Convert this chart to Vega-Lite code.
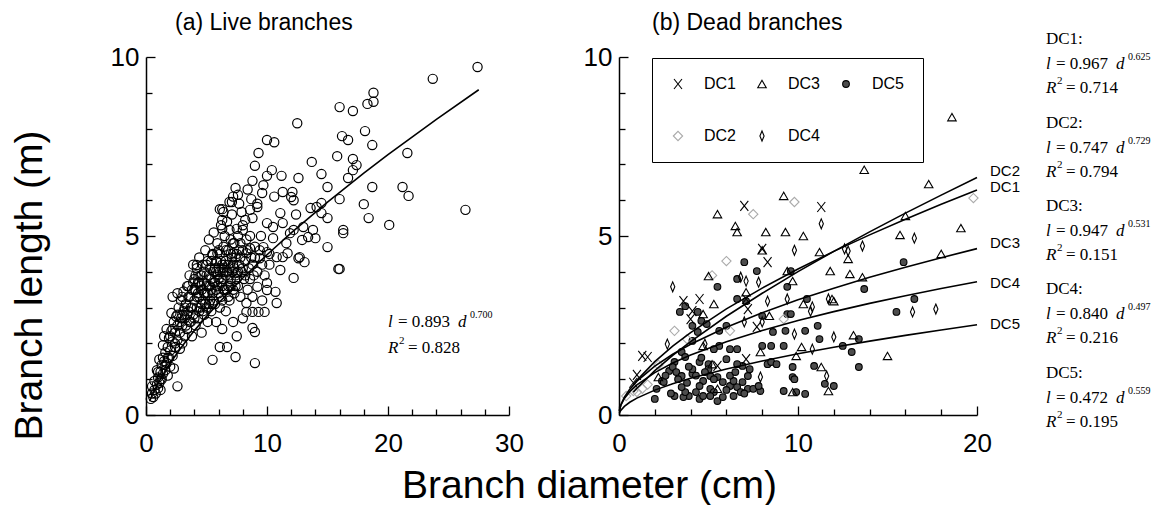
{
  "$schema": "https://vega.github.io/schema/vega-lite/v6.json",
  "background": "white",
  "padding": {"left": 10, "top": 12, "right": 0, "bottom": 0},
  "spacing": 110,
  "bounds": "flush",
  "resolve": {"legend": {"shape": "independent", "fill": "independent", "stroke": "independent", "size": "independent"}},
  "config": {
    "view": {"stroke": null},
    "font": "Liberation Sans",
    "axis": {"domainColor": "black", "domainWidth": 1.5, "tickColor": "black", "tickWidth": 1.3, "tickSize": -6, "labelFont": "Liberation Sans", "labelFontSize": 26, "labelColor": "black", "grid": false, "labelFlush": false, "labelOverlap": false, "titleFont": "Liberation Sans", "titleFontSize": 39, "titleFontWeight": "normal", "titleColor": "black"},
    "title": {"font": "Liberation Sans", "fontSize": 23, "fontWeight": "normal", "color": "black", "anchor": "start", "frame": "group", "baseline": "alphabetic"}
  },
  "datasets": {
    "live": [
      {"d":0.4,"l":0.45},{"d":0.5,"l":0.6},{"d":0.6,"l":0.5},{"d":0.7,"l":0.7},{"d":0.5,"l":0.8},{"d":0.8,"l":0.6},{"d":0.9,"l":0.85},{"d":0.7,"l":0.95},{"d":1.0,"l":0.75},{"d":1.0,"l":1.05},{"d":1.1,"l":0.9},{"d":1.2,"l":1.2},{"d":0.9,"l":1.25},{"d":1.3,"l":1.0},{"d":1.3,"l":1.4},{"d":1.4,"l":1.15},{"d":1.5,"l":1.5},{"d":1.1,"l":1.55},{"d":1.6,"l":1.25},{"d":1.6,"l":1.75},{"d":1.7,"l":1.45},{"d":1.8,"l":1.9},{"d":1.4,"l":1.95},{"d":1.9,"l":1.6},{"d":1.9,"l":2.15},{"d":2.0,"l":1.35},{"d":2.0,"l":1.8},{"d":2.1,"l":2.35},{"d":1.7,"l":2.4},{"d":2.2,"l":1.65},{"d":2.2,"l":2.05},{"d":2.3,"l":2.6},{"d":2.4,"l":1.9},{"d":2.4,"l":2.3},{"d":2.5,"l":2.75},{"d":2.1,"l":2.85},{"d":2.6,"l":2.1},{"d":2.6,"l":2.5},{"d":2.7,"l":3.0},{"d":2.8,"l":1.85},{"d":2.8,"l":2.3},{"d":2.9,"l":2.7},{"d":2.9,"l":3.2},{"d":3.0,"l":2.0},{"d":3.0,"l":2.5},{"d":3.1,"l":2.9},{"d":3.1,"l":3.45},{"d":3.2,"l":2.2},{"d":3.2,"l":2.7},{"d":3.3,"l":3.1},{"d":3.4,"l":2.4},{"d":3.4,"l":3.6},{"d":3.5,"l":2.9},{"d":2.2,"l":3.3},{"d":2.6,"l":0.8},{"d":1.2,"l":0.7},{"d":2.3,"l":1.3},{"d":1.8,"l":1.1},{"d":2.6,"l":3.4},{"d":1.5,"l":2.2},
      {"d":3.5,"l":3.3},{"d":3.6,"l":2.6},{"d":3.6,"l":3.9},{"d":3.7,"l":3.0},{"d":3.8,"l":3.5},{"d":3.8,"l":2.2},{"d":3.9,"l":4.2},{"d":3.9,"l":2.8},{"d":4.0,"l":3.2},{"d":4.0,"l":3.8},{"d":4.1,"l":2.5},{"d":4.1,"l":3.5},{"d":4.2,"l":4.1},{"d":4.2,"l":3.0},{"d":4.3,"l":3.7},{"d":4.3,"l":2.7},{"d":4.4,"l":3.3},{"d":4.4,"l":4.4},{"d":4.5,"l":3.0},{"d":4.5,"l":3.9},{"d":4.6,"l":3.5},{"d":4.6,"l":2.3},{"d":4.7,"l":4.2},{"d":4.7,"l":3.2},{"d":4.8,"l":3.7},{"d":4.8,"l":2.8},{"d":4.9,"l":4.6},{"d":4.9,"l":3.4},{"d":5.0,"l":3.9},{"d":5.0,"l":3.0},{"d":5.1,"l":4.3},{"d":5.1,"l":2.6},{"d":5.2,"l":3.6},{"d":5.2,"l":4.9},{"d":5.3,"l":3.2},{"d":5.3,"l":4.1},{"d":5.4,"l":3.8},{"d":5.4,"l":2.9},{"d":5.5,"l":4.5},{"d":5.5,"l":3.4},{"d":5.6,"l":4.0},{"d":5.6,"l":5.1},{"d":5.7,"l":3.1},{"d":5.7,"l":3.7},{"d":5.8,"l":4.3},{"d":5.8,"l":2.6},{"d":5.9,"l":3.9},{"d":5.9,"l":4.8},{"d":6.0,"l":3.4},{"d":6.0,"l":4.1},{"d":6.1,"l":3.0},{"d":6.1,"l":4.5},{"d":6.2,"l":3.7},{"d":6.2,"l":5.3},{"d":6.3,"l":4.2},{"d":6.3,"l":3.2},{"d":6.4,"l":4.7},{"d":6.4,"l":3.8},{"d":6.5,"l":3.5},{"d":6.5,"l":5.0},{"d":6.6,"l":4.3},{"d":6.6,"l":2.9},{"d":6.7,"l":4.0},{"d":6.7,"l":5.4},{"d":6.8,"l":3.6},{"d":6.8,"l":4.6},{"d":6.9,"l":4.1},{"d":6.9,"l":3.2},{"d":7.0,"l":4.9},{"d":7.0,"l":3.8},{"d":7.1,"l":4.4},{"d":7.1,"l":5.6},{"d":7.2,"l":3.5},{"d":7.3,"l":4.1},{"d":7.3,"l":4.8},{"d":7.4,"l":3.9},{"d":7.5,"l":4.5},{"d":7.5,"l":5.2},{"d":7.6,"l":3.6},{"d":7.7,"l":4.2},{"d":7.8,"l":4.8},{"d":7.8,"l":3.3},{"d":7.9,"l":4.0},{"d":8.0,"l":4.6},{"d":8.0,"l":5.3},{"d":8.1,"l":3.8},{"d":8.2,"l":4.3},{"d":8.3,"l":4.9},{"d":8.4,"l":3.5},{"d":8.5,"l":4.1},{"d":8.6,"l":5.0},{"d":8.7,"l":4.4},{"d":8.9,"l":3.9},{"d":9.0,"l":4.7},
      {"d":1.0,"l":1.2},{"d":1.2,"l":1.0},{"d":1.4,"l":1.6},{"d":1.6,"l":1.4},{"d":1.8,"l":1.6},{"d":2.0,"l":2.2},{"d":2.2,"l":2.4},{"d":2.4,"l":2.0},{"d":2.6,"l":2.8},{"d":2.8,"l":2.6},{"d":3.0,"l":2.8},{"d":3.0,"l":3.3},{"d":3.2,"l":3.0},{"d":3.4,"l":2.8},{"d":3.6,"l":3.3},{"d":3.8,"l":3.0},{"d":4.0,"l":2.7},{"d":4.0,"l":3.5},{"d":4.2,"l":3.3},{"d":4.4,"l":2.9},{"d":4.4,"l":3.7},{"d":4.6,"l":3.9},{"d":4.6,"l":3.1},{"d":4.8,"l":3.4},{"d":4.8,"l":4.0},{"d":5.0,"l":3.6},{"d":5.0,"l":4.2},{"d":5.2,"l":3.1},{"d":5.2,"l":3.9},{"d":5.4,"l":3.5},{"d":5.4,"l":4.3},{"d":5.6,"l":3.7},{"d":5.6,"l":3.2},{"d":5.8,"l":4.0},{"d":5.8,"l":3.5},{"d":6.0,"l":3.8},{"d":6.0,"l":4.6},{"d":6.2,"l":4.3},{"d":6.2,"l":3.3},{"d":6.4,"l":4.0},{"d":6.4,"l":3.5},{"d":6.6,"l":4.6},{"d":6.6,"l":3.9},{"d":6.8,"l":4.2},{"d":6.8,"l":3.3},{"d":7.0,"l":4.5},{"d":7.0,"l":3.6},{"d":7.2,"l":4.2},{"d":7.2,"l":4.8},{"d":7.4,"l":4.4},{"d":7.4,"l":3.6},{"d":7.6,"l":4.0},{"d":7.6,"l":5.0},{"d":7.8,"l":4.4},{"d":8.0,"l":4.1},{"d":8.2,"l":3.9},{"d":8.4,"l":4.6},{"d":8.6,"l":3.8},{"d":8.8,"l":4.2},{"d":9.0,"l":4.4},{"d":9.2,"l":4.0},{"d":9.4,"l":4.6},{"d":9.6,"l":4.2},{"d":9.8,"l":3.9},{"d":10.2,"l":4.5},{"d":3.3,"l":2.5},{"d":3.5,"l":3.6},{"d":3.7,"l":2.6},{"d":3.9,"l":3.7},{"d":4.1,"l":3.9},{"d":4.3,"l":3.4},{"d":4.5,"l":3.6},{"d":4.7,"l":2.9},{"d":4.9,"l":3.1},{"d":5.1,"l":3.4},{"d":5.3,"l":3.6},{"d":5.5,"l":3.1},{"d":5.7,"l":4.1},{"d":5.9,"l":3.6},{"d":6.1,"l":4.0},{"d":6.3,"l":3.6},{"d":6.5,"l":4.2},{"d":6.7,"l":3.5},{"d":6.9,"l":3.9},{"d":7.1,"l":4.0},{"d":7.3,"l":3.4},{"d":7.5,"l":3.8},{"d":7.7,"l":4.6},
      {"d":5.5,"l":1.54},{"d":7.4,"l":1.62},{"d":9.0,"l":1.45},{"d":6.1,"l":1.9},{"d":6.7,"l":1.9},{"d":8.8,"l":2.43},{"d":9.0,"l":2.32},{"d":7.2,"l":2.6},{"d":8.3,"l":2.88},{"d":8.8,"l":2.88},{"d":9.3,"l":2.88},{"d":9.8,"l":2.88},{"d":10.8,"l":3.13},{"d":10.7,"l":3.44},{"d":12.2,"l":3.83},{"d":16.0,"l":4.08},{"d":10.0,"l":3.69},{"d":9.2,"l":3.58},{"d":8.8,"l":3.3},{"d":8.3,"l":3.13},{"d":7.5,"l":2.2},{"d":6.3,"l":2.4},{"d":8.0,"l":2.7},{"d":9.6,"l":3.2},
      {"d":6.1,"l":5.75},{"d":6.9,"l":5.95},{"d":7.2,"l":6.1},{"d":7.9,"l":5.67},{"d":8.2,"l":5.45},{"d":6.3,"l":5.45},{"d":6.3,"l":5.2},{"d":6.9,"l":5.17},{"d":8.0,"l":5.17},{"d":8.6,"l":5.73},{"d":8.8,"l":5.5},{"d":10.0,"l":5.36},{"d":10.5,"l":5.25},{"d":11.1,"l":5.64},{"d":11.3,"l":5.36},{"d":11.9,"l":5.08},{"d":12.2,"l":5.17},{"d":13.0,"l":5.25},{"d":13.4,"l":4.97},{"d":13.8,"l":5.17},{"d":14.0,"l":4.94},{"d":14.5,"l":5.64},{"d":15.0,"l":4.69},{"d":12.9,"l":4.89},{"d":10.5,"l":4.94},{"d":9.7,"l":4.69},{"d":8.6,"l":4.66},{"d":7.2,"l":4.52},{"d":5.5,"l":4.47},{"d":9.4,"l":4.38},{"d":11.3,"l":4.41},{"d":12.6,"l":4.38},{"d":5.9,"l":4.52},{"d":8.3,"l":4.52},{"d":10.0,"l":4.55},{"d":10.8,"l":4.41},{"d":11.7,"l":4.52},{"d":12.7,"l":4.41},{"d":13.1,"l":4.27},{"d":4.2,"l":4.19},{"d":6.4,"l":4.11},{"d":7.5,"l":3.97},{"d":10.0,"l":3.49},{"d":11.1,"l":4.05},{"d":15.9,"l":4.08},{"d":9.5,"l":5.0},{"d":10.2,"l":4.2},{"d":11.6,"l":4.8},{"d":12.4,"l":5.6},{"d":9.2,"l":5.9},{"d":10.6,"l":6.1},{"d":7.7,"l":5.9},{"d":8.4,"l":6.3},
      {"d":27.4,"l":9.72},{"d":23.7,"l":9.39},{"d":18.8,"l":9.0},{"d":18.8,"l":8.75},{"d":18.3,"l":8.69},{"d":16.0,"l":8.6},{"d":17.1,"l":8.49},{"d":12.5,"l":8.15},{"d":18.1,"l":7.93},{"d":16.2,"l":7.79},{"d":16.7,"l":7.68},{"d":18.7,"l":7.54},{"d":10.0,"l":7.68},{"d":10.6,"l":7.62},{"d":9.3,"l":7.32},{"d":21.6,"l":7.32},{"d":15.8,"l":7.23},{"d":17.1,"l":7.15},{"d":17.4,"l":6.98},{"d":17.1,"l":6.84},{"d":13.7,"l":7.07},{"d":9.0,"l":6.96},{"d":10.4,"l":6.84},{"d":10.0,"l":6.68},{"d":14.5,"l":6.73},{"d":11.2,"l":6.68},{"d":12.6,"l":6.62},{"d":16.7,"l":6.62},{"d":8.8,"l":6.54},{"d":15.0,"l":6.37},{"d":18.7,"l":6.37},{"d":21.2,"l":6.37},{"d":21.7,"l":6.12},{"d":7.4,"l":6.34},{"d":7.6,"l":6.15},{"d":9.7,"l":6.42},{"d":9.6,"l":6.2},{"d":11.3,"l":6.23},{"d":12.1,"l":6.23},{"d":12.0,"l":6.09},{"d":12.2,"l":6.0},{"d":7.1,"l":5.95},{"d":6.3,"l":5.75},{"d":6.4,"l":5.67},{"d":8.7,"l":6.03},{"d":9.2,"l":5.81},{"d":16.0,"l":6.03},{"d":26.4,"l":5.73},{"d":18.0,"l":5.89},{"d":18.4,"l":5.5},{"d":20.1,"l":5.31},{"d":16.3,"l":5.17},{"d":16.3,"l":5.08},{"d":13.6,"l":5.78},{"d":14.1,"l":5.81},{"d":14.5,"l":5.92},{"d":15.0,"l":5.5}
    ],
    "liveFit": [
      {"d":0.3,"l":0.384},{"d":0.5,"l":0.55},{"d":1,"l":0.893},{"d":2,"l":1.451},{"d":3,"l":1.927},{"d":4,"l":2.357},{"d":5,"l":2.755},{"d":6,"l":3.13},{"d":8,"l":3.828},{"d":10,"l":4.476},{"d":12,"l":5.085},{"d":15,"l":5.945},{"d":18,"l":6.754},{"d":20,"l":7.271},{"d":24,"l":8.26},{"d":27.5,"l":9.085}
    ],
    "liveEq": [{"coef":"= 0.893","exp":"0.700","r2":"= 0.828"}],
    "dead": [
      {"dc":"DC5","d":7.0,"l":4.27},{"dc":"DC5","d":7.7,"l":4.02},{"dc":"DC5","d":6.6,"l":3.8},{"dc":"DC5","d":5.5,"l":3.58},{"dc":"DC5","d":6.6,"l":3.24},{"dc":"DC5","d":7.1,"l":3.18},{"dc":"DC5","d":9.6,"l":4.02},{"dc":"DC5","d":9.4,"l":3.58},{"dc":"DC5","d":10.5,"l":3.24},{"dc":"DC5","d":15.9,"l":4.27},{"dc":"DC5","d":13.7,"l":3.52},{"dc":"DC5","d":16.5,"l":3.24},{"dc":"DC5","d":15.5,"l":2.88},{"dc":"DC5","d":9.4,"l":2.82},{"dc":"DC5","d":9.6,"l":2.82},{"dc":"DC5","d":8.0,"l":2.77},{"dc":"DC5","d":8.6,"l":2.32},{"dc":"DC5","d":9.3,"l":2.35},{"dc":"DC5","d":10.4,"l":2.35},{"dc":"DC5","d":11.1,"l":2.49},{"dc":"DC5","d":11.2,"l":2.12},{"dc":"DC5","d":8.0,"l":1.93},{"dc":"DC5","d":8.5,"l":1.93},{"dc":"DC5","d":9.2,"l":1.93},{"dc":"DC5","d":12.5,"l":1.93},{"dc":"DC5","d":13.0,"l":1.76},{"dc":"DC5","d":13.4,"l":2.12},{"dc":"DC5","d":13.4,"l":1.34},{"dc":"DC5","d":9.7,"l":1.34},{"dc":"DC5","d":9.7,"l":1.06},{"dc":"DC5","d":9.8,"l":1.0},{"dc":"DC5","d":10.9,"l":1.37},{"dc":"DC5","d":9.2,"l":0.67},{"dc":"DC5","d":9.9,"l":0.64},{"dc":"DC5","d":10.4,"l":0.59},{"dc":"DC5","d":11.5,"l":0.87},{"dc":"DC5","d":12.0,"l":0.81},{"dc":"DC5","d":4.1,"l":2.49},{"dc":"DC5","d":4.4,"l":2.32},{"dc":"DC5","d":4.6,"l":2.63},{"dc":"DC5","d":4.9,"l":2.54},{"dc":"DC5","d":4.1,"l":2.07},{"dc":"DC5","d":3.5,"l":1.76},{"dc":"DC5","d":3.7,"l":1.62},{"dc":"DC5","d":3.1,"l":1.48},{"dc":"DC5","d":2.8,"l":1.23},{"dc":"DC5","d":2.4,"l":0.95},{"dc":"DC5","d":2.0,"l":0.45},{"dc":"DC5","d":3.0,"l":1.34},{"dc":"DC5","d":3.2,"l":1.2},{"dc":"DC5","d":3.5,"l":1.09},{"dc":"DC5","d":4.1,"l":1.15},{"dc":"DC5","d":4.1,"l":1.28},{"dc":"DC5","d":4.5,"l":1.48},{"dc":"DC5","d":5.0,"l":1.42},{"dc":"DC5","d":5.0,"l":1.28},{"dc":"DC5","d":5.1,"l":1.09},{"dc":"DC5","d":4.7,"l":0.95},{"dc":"DC5","d":4.5,"l":0.81},{"dc":"DC5","d":4.3,"l":0.64},{"dc":"DC5","d":3.9,"l":0.53},{"dc":"DC5","d":3.6,"l":0.5},{"dc":"DC5","d":3.1,"l":0.53},{"dc":"DC5","d":3.7,"l":0.64},{"dc":"DC5","d":3.5,"l":0.78},{"dc":"DC5","d":5.1,"l":0.73},{"dc":"DC5","d":5.3,"l":0.64},{"dc":"DC5","d":5.5,"l":0.39},{"dc":"DC5","d":4.5,"l":0.45},{"dc":"DC5","d":4.7,"l":0.53},{"dc":"DC5","d":5.1,"l":0.53},{"dc":"DC5","d":5.5,"l":1.06},{"dc":"DC5","d":5.8,"l":0.92},{"dc":"DC5","d":6.2,"l":0.81},{"dc":"DC5","d":6.6,"l":0.78},{"dc":"DC5","d":6.9,"l":0.92},{"dc":"DC5","d":7.2,"l":1.09},{"dc":"DC5","d":7.3,"l":1.28},{"dc":"DC5","d":6.9,"l":1.37},{"dc":"DC5","d":6.6,"l":1.42},{"dc":"DC5","d":6.4,"l":0.95},{"dc":"DC5","d":7.2,"l":0.73},{"dc":"DC5","d":7.5,"l":0.73},{"dc":"DC5","d":7.9,"l":0.67},{"dc":"DC5","d":7.8,"l":0.81},{"dc":"DC5","d":6.4,"l":0.53},{"dc":"DC5","d":6.8,"l":0.64},{"dc":"DC5","d":6.0,"l":1.56},{"dc":"DC5","d":6.6,"l":1.84},{"dc":"DC5","d":6.2,"l":1.84},{"dc":"DC5","d":5.6,"l":1.93},{"dc":"DC5","d":5.3,"l":1.84},{"dc":"DC5","d":8.3,"l":1.42},{"dc":"DC5","d":8.5,"l":1.48},{"dc":"DC5","d":8.8,"l":1.42},{"dc":"DC5","d":2.1,"l":0.73},{"dc":"DC5","d":2.5,"l":0.92},{"dc":"DC5","d":6.0,"l":2.49},{"dc":"DC5","d":5.6,"l":2.35},{"dc":"DC5","d":4.4,"l":2.88},{"dc":"DC5","d":3.4,"l":2.88},{"dc":"DC5","d":3.7,"l":3.04},{"dc":"DC5","d":3.3,"l":1.0},{"dc":"DC5","d":3.8,"l":0.9},{"dc":"DC5","d":4.3,"l":1.1},{"dc":"DC5","d":4.8,"l":1.2},{"dc":"DC5","d":5.3,"l":1.0},{"dc":"DC5","d":6.0,"l":0.7},{"dc":"DC5","d":6.2,"l":1.1},{"dc":"DC5","d":7.0,"l":0.6},{"dc":"DC5","d":6.5,"l":1.2},{"dc":"DC5","d":5.8,"l":0.5},{"dc":"DC5","d":3.9,"l":1.35},{"dc":"DC5","d":4.6,"l":1.6},{"dc":"DC5","d":2.6,"l":1.1},{"dc":"DC5","d":2.9,"l":0.6},
      {"dc":"DC1","d":7.0,"l":5.84},{"dc":"DC1","d":11.3,"l":5.81},{"dc":"DC1","d":8.0,"l":4.64},{"dc":"DC1","d":8.3,"l":4.27},{"dc":"DC1","d":3.6,"l":3.18},{"dc":"DC1","d":4.5,"l":3.24},{"dc":"DC1","d":4.1,"l":2.9},{"dc":"DC1","d":7.1,"l":3.24},{"dc":"DC1","d":7.2,"l":2.96},{"dc":"DC1","d":1.3,"l":1.65},{"dc":"DC1","d":1.6,"l":1.62},{"dc":"DC1","d":1.0,"l":1.12},{"dc":"DC1","d":5.5,"l":1.37},{"dc":"DC1","d":7.1,"l":1.56},{"dc":"DC1","d":7.7,"l":2.46},{"dc":"DC1","d":4.0,"l":2.68},{"dc":"DC1","d":0.8,"l":0.9},
      {"dc":"DC2","d":7.5,"l":5.61},{"dc":"DC2","d":9.8,"l":5.95},{"dc":"DC2","d":19.8,"l":6.06},{"dc":"DC2","d":6.0,"l":4.3},{"dc":"DC2","d":3.1,"l":2.35},{"dc":"DC2","d":9.2,"l":2.68},{"dc":"DC2","d":1.0,"l":0.64},{"dc":"DC2","d":1.3,"l":0.73},{"dc":"DC2","d":0.8,"l":0.67},{"dc":"DC2","d":6.2,"l":2.35},{"dc":"DC2","d":0.4,"l":0.53},{"dc":"DC2","d":3.8,"l":2.12},{"dc":"DC2","d":1.6,"l":0.85},{"dc":"DC2","d":2.2,"l":1.4},{"dc":"DC2","d":5.2,"l":3.9},
      {"dc":"DC3","d":18.6,"l":8.32},{"dc":"DC3","d":13.7,"l":6.85},{"dc":"DC3","d":17.3,"l":6.45},{"dc":"DC3","d":9.2,"l":6.12},{"dc":"DC3","d":5.5,"l":5.61},{"dc":"DC3","d":6.5,"l":5.28},{"dc":"DC3","d":6.6,"l":5.11},{"dc":"DC3","d":8.2,"l":5.11},{"dc":"DC3","d":9.3,"l":5.11},{"dc":"DC3","d":10.3,"l":5.0},{"dc":"DC3","d":16.0,"l":5.56},{"dc":"DC3","d":19.1,"l":5.22},{"dc":"DC3","d":15.7,"l":5.03},{"dc":"DC3","d":11.2,"l":4.55},{"dc":"DC3","d":18.0,"l":4.5},{"dc":"DC3","d":8.0,"l":4.6},{"dc":"DC3","d":5.0,"l":3.88},{"dc":"DC3","d":7.1,"l":3.43},{"dc":"DC3","d":9.4,"l":4.02},{"dc":"DC3","d":11.8,"l":4.02},{"dc":"DC3","d":12.8,"l":4.36},{"dc":"DC3","d":12.9,"l":3.94},{"dc":"DC3","d":13.6,"l":3.85},{"dc":"DC3","d":5.3,"l":3.1},{"dc":"DC3","d":4.7,"l":2.82},{"dc":"DC3","d":9.7,"l":3.74},{"dc":"DC3","d":10.3,"l":3.1},{"dc":"DC3","d":11.9,"l":3.24},{"dc":"DC3","d":12.0,"l":3.18},{"dc":"DC3","d":8.4,"l":2.77},{"dc":"DC3","d":13.1,"l":2.23},{"dc":"DC3","d":15.0,"l":1.65},{"dc":"DC3","d":9.9,"l":1.65},{"dc":"DC3","d":7.9,"l":1.76},{"dc":"DC3","d":10.2,"l":1.9},{"dc":"DC3","d":11.3,"l":1.34},{"dc":"DC3","d":11.7,"l":0.67},{"dc":"DC3","d":9.7,"l":0.64},{"dc":"DC3","d":5.5,"l":0.73},{"dc":"DC3","d":4.7,"l":1.93},{"dc":"DC3","d":2.2,"l":1.06},{"dc":"DC3","d":5.2,"l":1.42},
      {"dc":"DC4","d":11.3,"l":5.34},{"dc":"DC4","d":16.5,"l":4.94},{"dc":"DC4","d":12.6,"l":4.64},{"dc":"DC4","d":12.8,"l":4.58},{"dc":"DC4","d":13.6,"l":4.72},{"dc":"DC4","d":3.0,"l":3.58},{"dc":"DC4","d":6.8,"l":3.85},{"dc":"DC4","d":7.1,"l":3.74},{"dc":"DC4","d":7.8,"l":3.71},{"dc":"DC4","d":8.3,"l":3.18},{"dc":"DC4","d":9.4,"l":3.24},{"dc":"DC4","d":10.8,"l":3.02},{"dc":"DC4","d":10.7,"l":2.9},{"dc":"DC4","d":11.7,"l":3.24},{"dc":"DC4","d":16.4,"l":2.88},{"dc":"DC4","d":17.7,"l":2.96},{"dc":"DC4","d":9.8,"l":2.26},{"dc":"DC4","d":12.0,"l":2.18},{"dc":"DC4","d":10.8,"l":1.84},{"dc":"DC4","d":8.0,"l":2.6},{"dc":"DC4","d":7.0,"l":2.6},{"dc":"DC4","d":7.9,"l":1.06},{"dc":"DC4","d":11.6,"l":1.09},{"dc":"DC4","d":2.7,"l":1.98},{"dc":"DC4","d":4.8,"l":1.98},{"dc":"DC4","d":9.8,"l":4.6}
    ],
    "deadFit": [
      {"dc":"DC1","d":0.8,"l":0.841},{"dc":"DC1","d":1,"l":0.967},{"dc":"DC1","d":2,"l":1.491},{"dc":"DC1","d":3,"l":1.921},{"dc":"DC1","d":4,"l":2.299},{"dc":"DC1","d":6,"l":2.964},{"dc":"DC1","d":8,"l":3.545},{"dc":"DC1","d":10,"l":4.078},{"dc":"DC1","d":12,"l":4.57},{"dc":"DC1","d":14,"l":5.031},{"dc":"DC1","d":16,"l":5.47},{"dc":"DC1","d":18,"l":5.887},{"dc":"DC1","d":20,"l":6.288},
      {"dc":"DC2","d":0.8,"l":0.635},{"dc":"DC2","d":1,"l":0.747},{"dc":"DC2","d":2,"l":1.238},{"dc":"DC2","d":3,"l":1.664},{"dc":"DC2","d":4,"l":2.052},{"dc":"DC2","d":6,"l":2.759},{"dc":"DC2","d":8,"l":3.4},{"dc":"DC2","d":10,"l":4.004},{"dc":"DC2","d":12,"l":4.572},{"dc":"DC2","d":14,"l":5.115},{"dc":"DC2","d":16,"l":5.639},{"dc":"DC2","d":18,"l":6.142},{"dc":"DC2","d":20,"l":6.635},
      {"dc":"DC3","d":0.02,"l":0.119},{"dc":"DC3","d":0.1,"l":0.279},{"dc":"DC3","d":0.3,"l":0.5},{"dc":"DC3","d":0.6,"l":0.722},{"dc":"DC3","d":1,"l":0.947},{"dc":"DC3","d":2,"l":1.368},{"dc":"DC3","d":3,"l":1.697},{"dc":"DC3","d":4,"l":1.977},{"dc":"DC3","d":6,"l":2.453},{"dc":"DC3","d":8,"l":2.856},{"dc":"DC3","d":10,"l":3.217},{"dc":"DC3","d":12,"l":3.543},{"dc":"DC3","d":14,"l":3.845},{"dc":"DC3","d":16,"l":4.129},{"dc":"DC3","d":18,"l":4.393},{"dc":"DC3","d":20,"l":4.647},
      {"dc":"DC4","d":0.02,"l":0.12},{"dc":"DC4","d":0.1,"l":0.267},{"dc":"DC4","d":0.3,"l":0.462},{"dc":"DC4","d":0.6,"l":0.652},{"dc":"DC4","d":1,"l":0.84},{"dc":"DC4","d":2,"l":1.185},{"dc":"DC4","d":3,"l":1.45},{"dc":"DC4","d":4,"l":1.673},{"dc":"DC4","d":6,"l":2.047},{"dc":"DC4","d":8,"l":2.361},{"dc":"DC4","d":10,"l":2.639},{"dc":"DC4","d":12,"l":2.888},{"dc":"DC4","d":14,"l":3.118},{"dc":"DC4","d":16,"l":3.333},{"dc":"DC4","d":18,"l":3.532},{"dc":"DC4","d":20,"l":3.723},
      {"dc":"DC5","d":0.02,"l":0.053},{"dc":"DC5","d":0.1,"l":0.13},{"dc":"DC5","d":0.3,"l":0.241},{"dc":"DC5","d":0.6,"l":0.355},{"dc":"DC5","d":1,"l":0.472},{"dc":"DC5","d":2,"l":0.695},{"dc":"DC5","d":3,"l":0.872},{"dc":"DC5","d":4,"l":1.024},{"dc":"DC5","d":6,"l":1.285},{"dc":"DC5","d":8,"l":1.509},{"dc":"DC5","d":10,"l":1.71},{"dc":"DC5","d":12,"l":1.893},{"dc":"DC5","d":14,"l":2.064},{"dc":"DC5","d":16,"l":2.224},{"dc":"DC5","d":18,"l":2.374},{"dc":"DC5","d":20,"l":2.519}
    ],
    "fitLabels": [
      {"dc":"DC2","d":20,"l":6.82},{"dc":"DC1","d":20,"l":6.37},{"dc":"DC3","d":20,"l":4.8},{"dc":"DC4","d":20,"l":3.69},{"dc":"DC5","d":20,"l":2.54}
    ],
    "deadEq": [
      {"dc":"DC1","head":"DC1:","coef":"= 0.967","exp":"0.625","r2":"= 0.714"},
      {"dc":"DC2","head":"DC2:","coef":"= 0.747","exp":"0.729","r2":"= 0.794"},
      {"dc":"DC3","head":"DC3:","coef":"= 0.947","exp":"0.531","r2":"= 0.151"},
      {"dc":"DC4","head":"DC4:","coef":"= 0.840","exp":"0.497","r2":"= 0.216"},
      {"dc":"DC5","head":"DC5:","coef":"= 0.472","exp":"0.559","r2":"= 0.195"}
    ]
  },
  "hconcat": [
    {
      "width": 363,
      "height": 358,
      "title": {"text": "(a) Live branches", "dx": 29, "offset": 9},
      "resolve": {"axis": {"x": "independent", "y": "independent"}},
      "layer": [
        {
          "data": {"name": "live"},
          "mark": {"type": "point", "shape": "circle", "filled": false, "stroke": "black", "strokeWidth": 1.2, "size": 85, "opacity": 1},
          "encoding": {
            "x": {"field": "d", "type": "quantitative", "scale": {"domain": [0, 30], "nice": false},
              "axis": {"orient": "bottom", "values": [0, 10, 20, 30], "tickSize": -9, "labelOverlap": false, "labelPadding": 24, "title": "Branch diameter (cm)", "titleFontSize": 39, "titleX": 443, "titleY": 82, "titleBaseline": "alphabetic", "titleAlign": "center", "titleAnchor": null}},
            "y": {"field": "l", "type": "quantitative", "scale": {"domain": [0, 10], "nice": false},
              "axis": {"orient": "left", "values": [0, 5, 10], "tickSize": -9, "labelOverlap": false, "labelPadding": 16, "title": "Branch length (m)", "titleFontSize": 39, "titleLimit": 1000, "titleX": -105, "titleY": 228, "titleBaseline": "alphabetic", "titleAlign": "center", "titleAngle": 270, "titleAnchor": null}}
          }
        },
        {
          "data": {"name": "liveFit"},
          "mark": {"type": "line", "color": "black", "strokeWidth": 1.6},
          "encoding": {
            "x": {"field": "d", "type": "quantitative", "axis": {"orient": "bottom", "values": [2,4,6,8,12,14,16,18,22,24,26,28], "labels": false, "domain": false, "tickSize": -6, "title": null}},
            "y": {"field": "l", "type": "quantitative", "axis": {"orient": "left", "values": [1,2,3,4,6,7,8,9], "labels": false, "domain": false, "tickSize": -6, "title": null}}
          }
        },
        {
          "data": {"name": "liveEq"},
          "layer": [
            {"mark": {"type": "text", "align": "left", "baseline": "middle", "font": "Liberation Serif", "fontSize": 17, "fontStyle": "italic", "color": "black"},
             "encoding": {"x": {"datum": 20, "type": "quantitative", "axis": null}, "y": {"datum": 2.6, "type": "quantitative", "axis": null}, "text": {"value": "l"}}},
            {"mark": {"type": "text", "align": "left", "baseline": "middle", "font": "Liberation Serif", "fontSize": 17, "dx": 10, "color": "black"},
             "encoding": {"x": {"datum": 20, "type": "quantitative", "axis": null}, "y": {"datum": 2.6, "type": "quantitative", "axis": null}, "text": {"field": "coef"}}},
            {"mark": {"type": "text", "align": "left", "baseline": "middle", "font": "Liberation Serif", "fontSize": 17, "fontStyle": "italic", "dx": 70, "color": "black"},
             "encoding": {"x": {"datum": 20, "type": "quantitative", "axis": null}, "y": {"datum": 2.6, "type": "quantitative", "axis": null}, "text": {"value": "d"}}},
            {"mark": {"type": "text", "align": "left", "baseline": "middle", "font": "Liberation Serif", "fontSize": 10, "dx": 82, "dy": -7, "color": "black"},
             "encoding": {"x": {"datum": 20, "type": "quantitative", "axis": null}, "y": {"datum": 2.6, "type": "quantitative", "axis": null}, "text": {"field": "exp"}}},
            {"mark": {"type": "text", "align": "left", "baseline": "middle", "font": "Liberation Serif", "fontSize": 17, "fontStyle": "italic", "color": "black"},
             "encoding": {"x": {"datum": 20, "type": "quantitative", "axis": null}, "y": {"datum": 1.87, "type": "quantitative", "axis": null}, "text": {"value": "R"}}},
            {"mark": {"type": "text", "align": "left", "baseline": "middle", "font": "Liberation Serif", "fontSize": 11, "dx": 11, "dy": -7, "color": "black"},
             "encoding": {"x": {"datum": 20, "type": "quantitative", "axis": null}, "y": {"datum": 1.87, "type": "quantitative", "axis": null}, "text": {"value": "2"}}},
            {"mark": {"type": "text", "align": "left", "baseline": "middle", "font": "Liberation Serif", "fontSize": 17, "dx": 20, "color": "black"},
             "encoding": {"x": {"datum": 20, "type": "quantitative", "axis": null}, "y": {"datum": 1.87, "type": "quantitative", "axis": null}, "text": {"field": "r2"}}}
          ]
        }
      ]
    },
    {
      "width": 358,
      "height": 358,
      "title": {"text": "(b) Dead branches", "dx": 33, "offset": 9},
      "resolve": {"axis": {"x": "independent", "y": "independent"}},
      "layer": [
        {
          "data": {"name": "dead"},
          "mark": {"type": "point", "filled": true, "strokeWidth": 1.1, "opacity": 1},
          "encoding": {
            "x": {"field": "d", "type": "quantitative", "scale": {"domain": [0, 20], "nice": false},
              "axis": {"orient": "bottom", "values": [0, 10, 20], "tickSize": -9, "labelOverlap": false, "labelPadding": 24, "title": null}},
            "y": {"field": "l", "type": "quantitative", "scale": {"domain": [0, 10], "nice": false},
              "axis": {"orient": "left", "values": [0, 5, 10], "tickSize": -9, "labelOverlap": false, "labelPadding": 16, "title": null}},
            "shape": {"field": "dc", "type": "nominal",
              "scale": {"domain": ["DC1","DC2","DC3","DC4","DC5"], "range": ["M-0.8,-1L0.8,1M0.8,-1L-0.8,1", "diamond", "triangle-up", "M0,-1.3L0.55,0L0,1.3L-0.55,0Z", "circle"]},
              "legend": {"title": null, "orient": "none", "legendX": 33, "legendY": 1, "columns": 3, "strokeColor": "black", "padding": 18, "columnPadding": 17, "rowPadding": 36, "labelFont": "Liberation Sans", "labelFontSize": 16, "labelColor": "black", "labelOffset": 18, "symbolStrokeWidth": 1.1, "symbolOpacity": 1}},
            "fill": {"field": "dc", "type": "nominal", "scale": {"domain": ["DC1","DC2","DC3","DC4","DC5"], "range": ["transparent","transparent","transparent","transparent","#4d4d4d"]}},
            "stroke": {"field": "dc", "type": "nominal", "scale": {"domain": ["DC1","DC2","DC3","DC4","DC5"], "range": ["black","#aaaaaa","black","black","black"]}},
            "size": {"field": "dc", "type": "nominal", "scale": {"domain": ["DC1","DC2","DC3","DC4","DC5"], "range": [100, 45, 110, 95, 50]}}
          }
        },
        {
          "data": {"name": "deadFit"},
          "mark": {"type": "line", "color": "black", "strokeWidth": 1.6},
          "encoding": {
            "x": {"field": "d", "type": "quantitative", "axis": {"orient": "bottom", "values": [2,4,6,8,12,14,16,18], "labels": false, "domain": false, "tickSize": -6, "title": null}},
            "y": {"field": "l", "type": "quantitative", "axis": {"orient": "left", "values": [1,2,3,4,6,7,8,9], "labels": false, "domain": false, "tickSize": -6, "title": null}},
            "detail": {"field": "dc", "type": "nominal"}
          }
        },
        {
          "data": {"name": "fitLabels"},
          "mark": {"type": "text", "align": "left", "baseline": "middle", "dx": 13, "font": "Liberation Sans", "fontSize": 15, "color": "black"},
          "encoding": {"x": {"field": "d", "type": "quantitative", "axis": null}, "y": {"field": "l", "type": "quantitative", "axis": null}, "text": {"field": "dc"}}
        }
      ]
    },
    {
      "width": 60,
      "height": 358,
      "data": {"name": "deadEq"},
      "encoding": {
        "x": {"datum": 0, "type": "quantitative", "scale": {"domain": [0, 1]}, "axis": null},
        "y": {"field": "dc", "type": "ordinal", "scale": {"type": "point", "padding": 0.15}, "axis": null}
      },
      "layer": [
        {"mark": {"type": "text", "align": "left", "baseline": "middle", "font": "Liberation Serif", "fontSize": 17, "dx": -41, "dy": -30, "color": "black"}, "encoding": {"text": {"field": "head"}}},
        {"mark": {"type": "text", "align": "left", "baseline": "middle", "font": "Liberation Serif", "fontSize": 17, "fontStyle": "italic", "dx": -41, "dy": -5, "color": "black"}, "encoding": {"text": {"value": "l"}}},
        {"mark": {"type": "text", "align": "left", "baseline": "middle", "font": "Liberation Serif", "fontSize": 17, "dx": -31, "dy": -5, "color": "black"}, "encoding": {"text": {"field": "coef"}}},
        {"mark": {"type": "text", "align": "left", "baseline": "middle", "font": "Liberation Serif", "fontSize": 17, "fontStyle": "italic", "dx": 29, "dy": -5, "color": "black"}, "encoding": {"text": {"value": "d"}}},
        {"mark": {"type": "text", "align": "left", "baseline": "middle", "font": "Liberation Serif", "fontSize": 10, "dx": 41, "dy": -12, "color": "black"}, "encoding": {"text": {"field": "exp"}}},
        {"mark": {"type": "text", "align": "left", "baseline": "middle", "font": "Liberation Serif", "fontSize": 17, "fontStyle": "italic", "dx": -41, "dy": 19, "color": "black"}, "encoding": {"text": {"value": "R"}}},
        {"mark": {"type": "text", "align": "left", "baseline": "middle", "font": "Liberation Serif", "fontSize": 11, "dx": -30, "dy": 12, "color": "black"}, "encoding": {"text": {"value": "2"}}},
        {"mark": {"type": "text", "align": "left", "baseline": "middle", "font": "Liberation Serif", "fontSize": 17, "dx": -21, "dy": 19, "color": "black"}, "encoding": {"text": {"field": "r2"}}}
      ]
    }
  ]
}
